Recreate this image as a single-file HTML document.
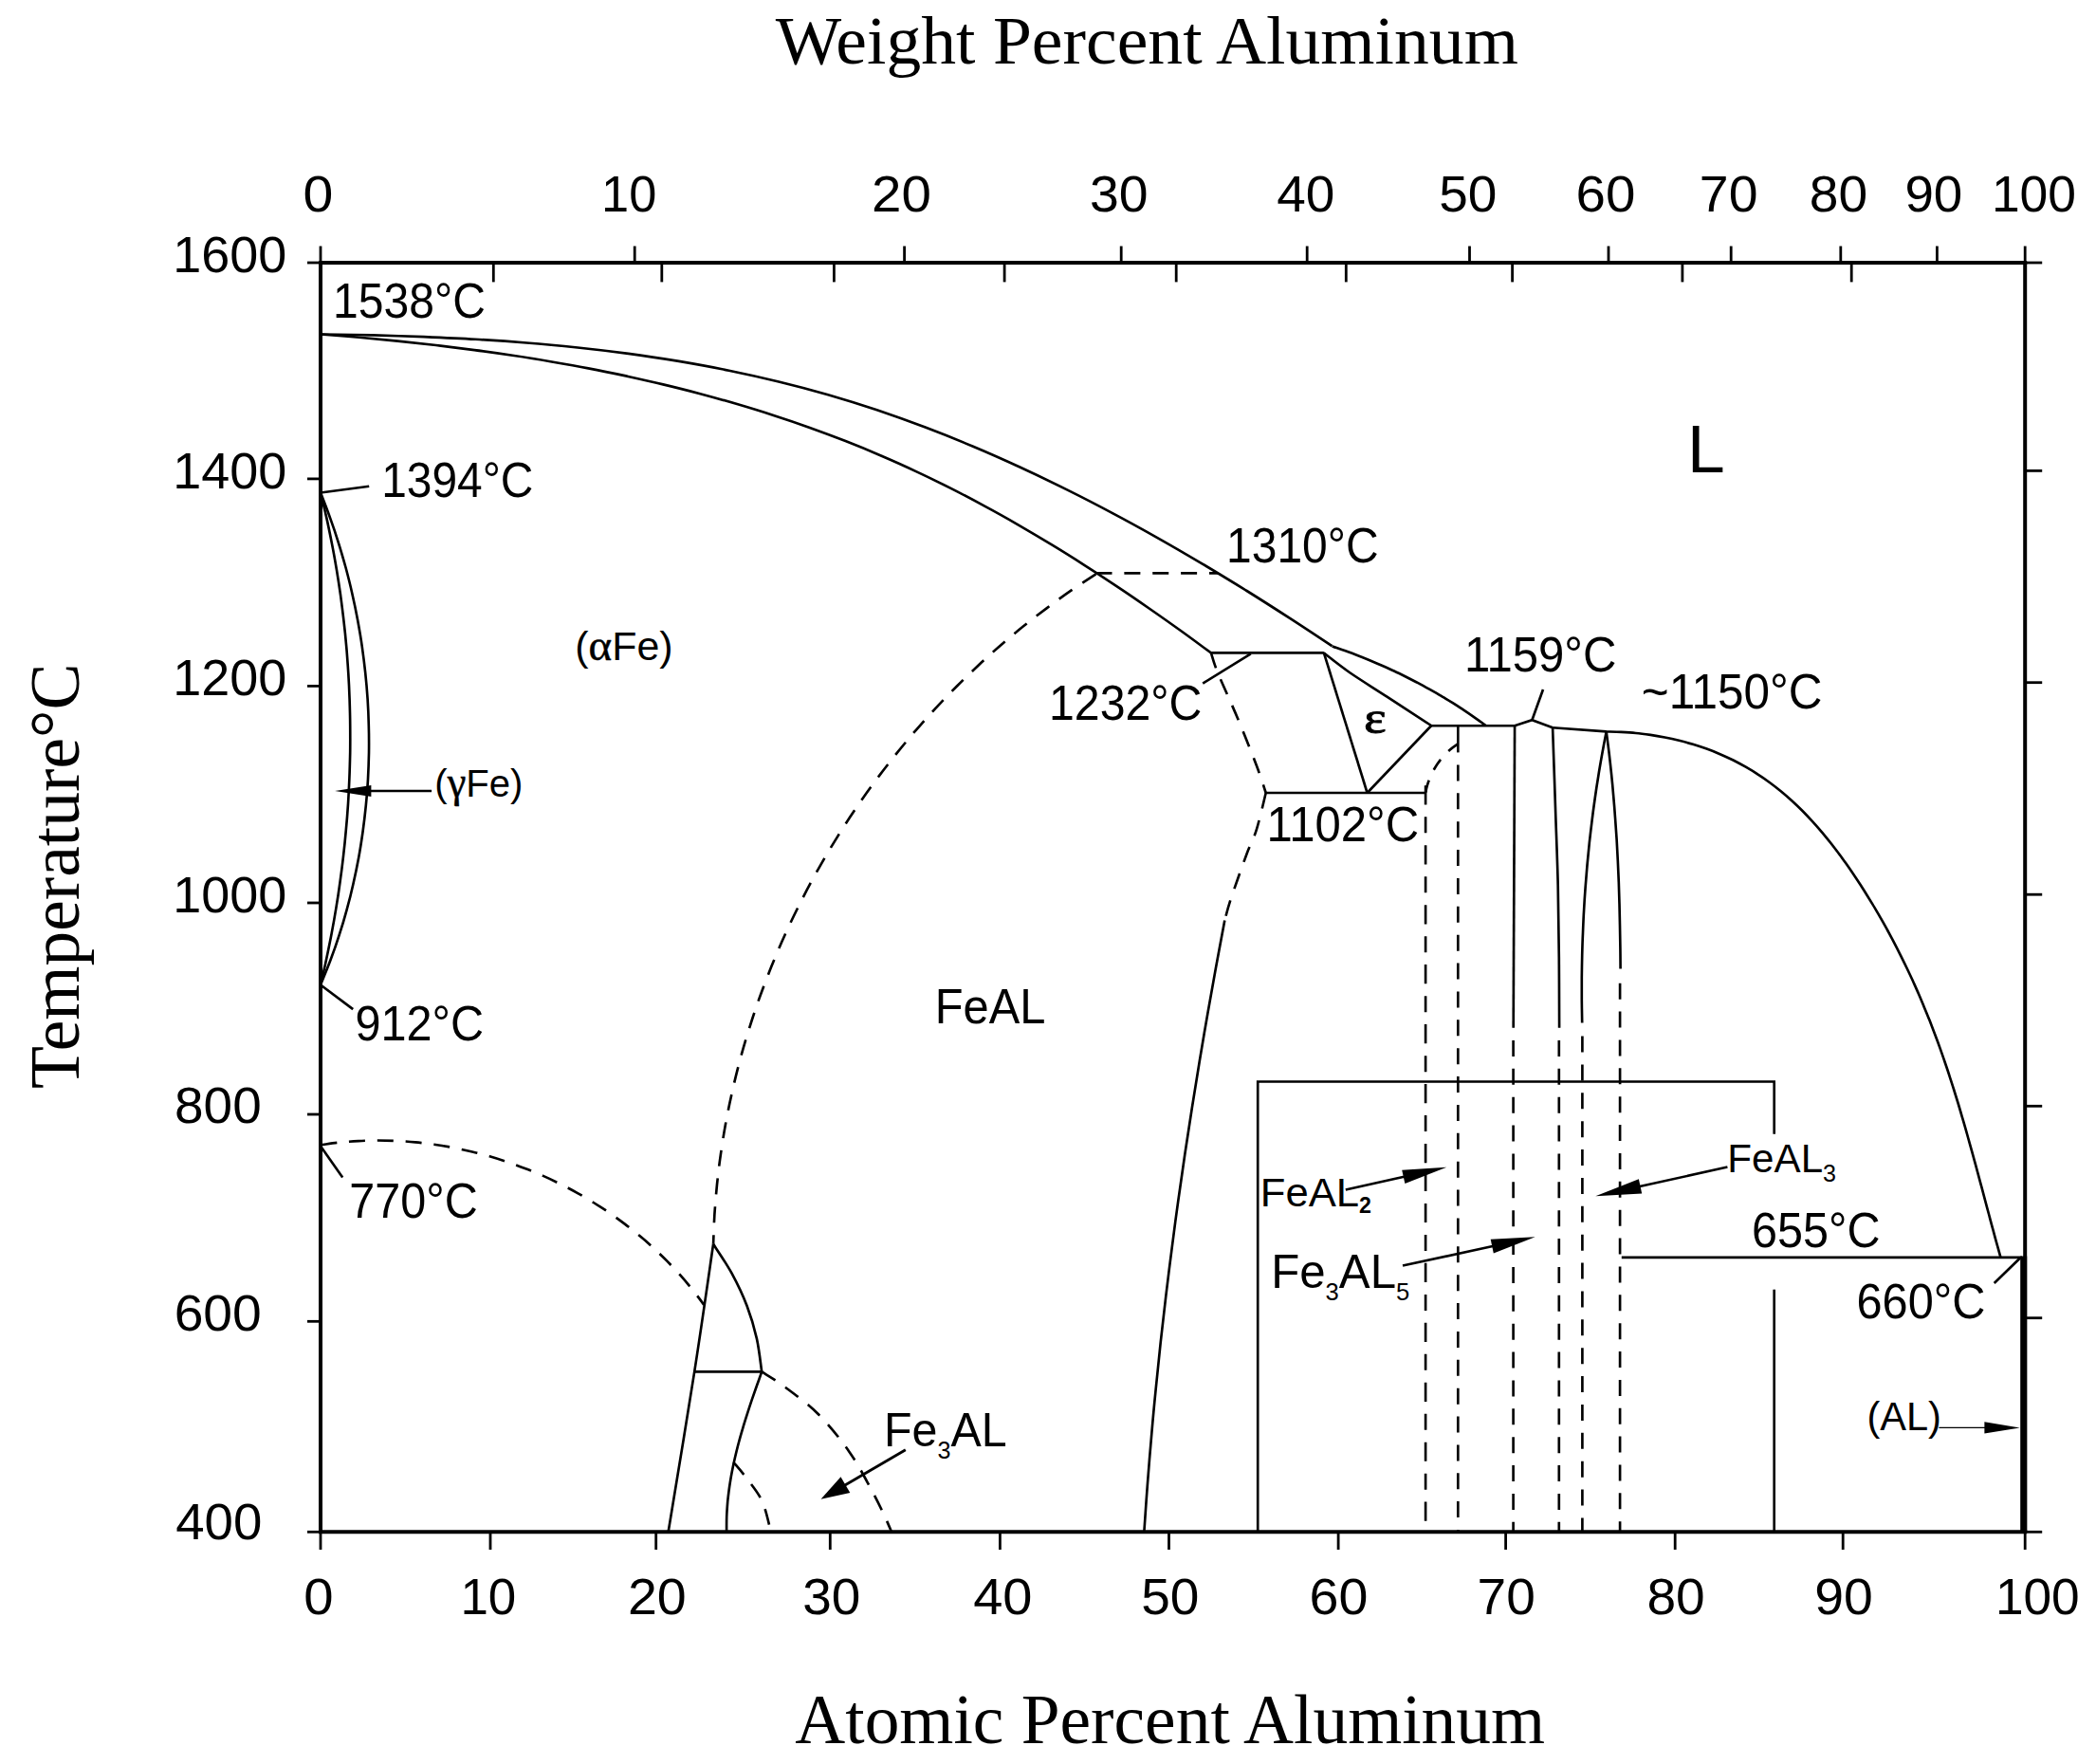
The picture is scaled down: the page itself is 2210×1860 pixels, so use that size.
<!DOCTYPE html>
<html><head><meta charset="utf-8"><title>Fe-Al phase diagram</title>
<style>
html,body{margin:0;padding:0;background:#fff}
svg{display:block}
.s{font-family:"Liberation Sans",Arial,Helvetica,sans-serif}
.r{font-family:"Liberation Serif","Times New Roman",Times,serif}
</style></head>
<body>
<svg width="2210" height="1860" viewBox="0 0 2210 1860">
<rect width="2210" height="1860" fill="#fff"/>
<g fill="none" stroke="#000" stroke-linecap="butt" stroke-linejoin="miter">
<path d="M336.0,277.0 L2137.2,277.0" stroke-width="4.0"/>
<path d="M336.0,1615.3 L2137.2,1615.3" stroke-width="4.0"/>
<path d="M338.0,277.0 L338.0,1615.3" stroke-width="4.0"/>
<path d="M2135.2,277.0 L2135.2,1615.3" stroke-width="4.0"/>
<path d="M338.0,259.5 L338.0,277.0" stroke-width="2.8"/>
<path d="M338.0,1615.3 L338.0,1634.0" stroke-width="2.8"/>
<path d="M2135.2,259.5 L2135.2,277.0" stroke-width="2.8"/>
<path d="M2135.2,1615.3 L2135.2,1634.0" stroke-width="2.8"/>
<path d="M324.0,277.0 L338.0,277.0" stroke-width="2.8"/>
<path d="M2135.2,277.0 L2153.2,277.0" stroke-width="2.8"/>
<path d="M324.0,1615.3 L338.0,1615.3" stroke-width="2.8"/>
<path d="M2135.2,1615.3 L2153.2,1615.3" stroke-width="2.8"/>
<path d="M2133.7,1324.6 L2133.7,1615.0" stroke-width="7.0"/>
<path d="M669.2,259.5 L669.2,277.0" stroke-width="2.8"/>
<path d="M953.6,259.5 L953.6,277.0" stroke-width="2.8"/>
<path d="M1182.2,259.5 L1182.2,277.0" stroke-width="2.8"/>
<path d="M1378.2,259.5 L1378.2,277.0" stroke-width="2.8"/>
<path d="M1549.5,259.5 L1549.5,277.0" stroke-width="2.8"/>
<path d="M1696.0,259.5 L1696.0,277.0" stroke-width="2.8"/>
<path d="M1825.2,259.5 L1825.2,277.0" stroke-width="2.8"/>
<path d="M1940.8,259.5 L1940.8,277.0" stroke-width="2.8"/>
<path d="M2042.4,259.5 L2042.4,277.0" stroke-width="2.8"/>
<path d="M520.3,277.0 L520.3,297.4" stroke-width="2.8"/>
<path d="M697.8,277.0 L697.8,297.4" stroke-width="2.8"/>
<path d="M879.4,277.0 L879.4,297.4" stroke-width="2.8"/>
<path d="M1059.1,277.0 L1059.1,297.4" stroke-width="2.8"/>
<path d="M1240.2,277.0 L1240.2,297.4" stroke-width="2.8"/>
<path d="M1419.3,277.0 L1419.3,297.4" stroke-width="2.8"/>
<path d="M1594.6,277.0 L1594.6,297.4" stroke-width="2.8"/>
<path d="M1773.9,277.0 L1773.9,297.4" stroke-width="2.8"/>
<path d="M1952.2,277.0 L1952.2,297.4" stroke-width="2.8"/>
<path d="M517.0,1615.3 L517.0,1634.0" stroke-width="2.8"/>
<path d="M691.7,1615.3 L691.7,1634.0" stroke-width="2.8"/>
<path d="M875.3,1615.3 L875.3,1634.0" stroke-width="2.8"/>
<path d="M1054.4,1615.3 L1054.4,1634.0" stroke-width="2.8"/>
<path d="M1232.5,1615.3 L1232.5,1634.0" stroke-width="2.8"/>
<path d="M1411.1,1615.3 L1411.1,1634.0" stroke-width="2.8"/>
<path d="M1587.6,1615.3 L1587.6,1634.0" stroke-width="2.8"/>
<path d="M1766.2,1615.3 L1766.2,1634.0" stroke-width="2.8"/>
<path d="M1943.2,1615.3 L1943.2,1634.0" stroke-width="2.8"/>
<path d="M324.0,504.9 L338.0,504.9" stroke-width="2.8"/>
<path d="M324.0,723.4 L338.0,723.4" stroke-width="2.8"/>
<path d="M324.0,952.0 L338.0,952.0" stroke-width="2.8"/>
<path d="M324.0,1175.0 L338.0,1175.0" stroke-width="2.8"/>
<path d="M324.0,1393.3 L338.0,1393.3" stroke-width="2.8"/>
<path d="M2135.2,496.4 L2153.2,496.4" stroke-width="2.8"/>
<path d="M2135.2,719.7 L2153.2,719.7" stroke-width="2.8"/>
<path d="M2135.2,943.2 L2153.2,943.2" stroke-width="2.8"/>
<path d="M2135.2,1166.3 L2153.2,1166.3" stroke-width="2.8"/>
<path d="M2135.2,1389.7 L2153.2,1389.7" stroke-width="2.8"/>
<path d="M338.0,352.5 C347.1,352.7 374.4,353.0 392.6,353.4 C410.7,353.9 428.9,354.4 447.0,355.1 C465.1,355.9 483.2,356.7 501.2,357.8 C519.3,358.8 537.3,360.0 555.3,361.5 C573.3,362.9 591.2,364.6 609.1,366.5 C627.0,368.4 644.8,370.5 662.6,372.9 C680.4,375.3 698.1,378.0 715.8,380.9 C733.5,383.9 751.1,387.1 768.6,390.7 C786.2,394.3 803.7,398.2 821.1,402.5 C838.5,406.7 855.8,411.3 873.1,416.3 C890.3,421.3 907.5,426.6 924.6,432.3 C941.7,438.1 958.7,444.2 975.6,450.6 C992.5,457.0 1009.3,463.7 1026.0,470.8 C1042.7,477.8 1059.3,485.2 1075.8,492.8 C1092.3,500.4 1108.7,508.3 1125.0,516.4 C1141.3,524.5 1157.5,532.8 1173.5,541.4 C1189.6,549.9 1205.5,558.7 1221.3,567.6 C1237.1,576.5 1252.8,585.7 1268.3,594.9 C1283.9,604.1 1299.3,613.6 1314.6,623.0 C1329.8,632.5 1345.0,642.2 1360.0,651.9 C1375.0,661.6 1397.1,676.3 1404.5,681.2" stroke-width="2.65"/>
<path d="M1404.6,681.6 C1406.8,682.4 1413.5,684.6 1417.9,686.1 C1422.3,687.7 1426.7,689.3 1431.1,691.0 C1435.5,692.7 1439.8,694.4 1444.2,696.2 C1448.5,698.0 1452.8,699.8 1457.1,701.7 C1461.4,703.6 1465.7,705.6 1469.9,707.5 C1474.2,709.5 1478.4,711.6 1482.6,713.7 C1486.8,715.8 1491.0,717.9 1495.2,720.1 C1499.3,722.3 1503.4,724.6 1507.5,726.9 C1511.6,729.2 1515.7,731.5 1519.7,733.9 C1523.7,736.3 1527.8,738.7 1531.7,741.2 C1535.7,743.7 1539.6,746.3 1543.6,748.9 C1547.5,751.5 1551.3,754.1 1555.2,756.8 C1559.0,759.5 1564.7,763.6 1566.6,765.0" stroke-width="2.65"/>
<path d="M338.0,352.5 C344.8,353.1 365.1,354.6 378.7,355.8 C392.3,357.0 405.8,358.3 419.3,359.6 C432.8,361.0 446.3,362.5 459.8,364.0 C473.3,365.6 486.8,367.3 500.2,369.1 C513.6,370.8 527.0,372.7 540.4,374.8 C553.8,376.8 567.1,378.9 580.4,381.2 C593.7,383.5 607.0,385.8 620.3,388.4 C633.5,390.9 646.7,393.6 659.9,396.4 C673.0,399.3 686.2,402.2 699.2,405.4 C712.3,408.5 725.3,411.8 738.3,415.2 C751.3,418.7 764.2,422.3 777.1,426.1 C790.0,429.9 802.8,433.8 815.6,438.0 C828.4,442.1 841.1,446.4 853.8,451.0 C866.4,455.5 879.0,460.2 891.5,465.1 C904.1,470.0 916.5,475.1 928.9,480.5 C941.3,485.8 953.7,491.3 965.9,497.1 C978.2,502.8 990.4,508.8 1002.5,514.9 C1014.6,521.0 1026.7,527.4 1038.6,533.9 C1050.6,540.3 1062.5,547.0 1074.3,553.8 C1086.1,560.6 1097.8,567.6 1109.4,574.7 C1121.0,581.7 1132.6,589.0 1144.0,596.3 C1155.5,603.6 1166.9,611.1 1178.1,618.6 C1189.4,626.1 1200.6,633.8 1211.6,641.5 C1222.7,649.2 1233.7,656.9 1244.6,664.8 C1255.5,672.6 1271.5,684.5 1276.9,688.4" stroke-width="2.65"/>
<path d="M1276.9,688.4 L1395.9,688.4" stroke-width="2.65"/>
<path d="M1318.8,689.4 L1268.2,720.6" stroke-width="2.65"/>
<path d="M1395.7,688.4 C1400.2,691.8 1411.8,701.3 1422.9,709.0 C1434.0,716.7 1448.1,725.3 1462.4,734.6 C1476.8,743.9 1501.2,759.9 1509.0,765.0" stroke-width="2.65"/>
<path d="M1395.9,688.4 L1441.6,836.0" stroke-width="2.65"/>
<path d="M1509.3,765.0 L1441.6,836.0" stroke-width="2.65"/>
<path d="M1509.0,765.2 L1597.1,765.2 L1615.4,759.2 L1637.1,767.3" stroke-width="2.65"/>
<path d="M1615.4,759.2 L1627.0,727.0" stroke-width="2.65"/>
<path d="M1637.1,767.3 L1693.7,771.4 C1696.3,771.5 1704.1,771.6 1709.3,771.9 C1714.5,772.2 1719.6,772.5 1724.8,773.0 C1729.9,773.5 1735.1,774.2 1740.2,774.9 C1745.2,775.6 1750.3,776.5 1755.3,777.5 C1760.4,778.5 1765.4,779.6 1770.3,780.8 C1775.3,782.0 1780.2,783.3 1785.0,784.8 C1789.9,786.3 1794.7,787.9 1799.5,789.6 C1804.2,791.3 1809.0,793.2 1813.6,795.2 C1818.3,797.2 1822.8,799.3 1827.4,801.5 C1831.9,803.8 1836.3,806.2 1840.7,808.7 C1845.1,811.2 1849.4,813.8 1853.6,816.6 C1857.9,819.3 1862.0,822.2 1866.1,825.2 C1870.2,828.2 1874.1,831.3 1878.0,834.5 C1881.9,837.7 1885.8,841.1 1889.5,844.5 C1893.2,847.9 1896.9,851.4 1900.5,855.0 C1904.0,858.6 1907.5,862.3 1911.0,866.1 C1914.4,869.8 1917.8,873.7 1921.1,877.6 C1924.4,881.5 1927.6,885.5 1930.8,889.5 C1933.9,893.5 1937.1,897.6 1940.1,901.7 C1943.2,905.9 1946.1,910.1 1949.1,914.3 C1952.0,918.5 1954.9,922.8 1957.7,927.0 C1960.6,931.3 1963.4,935.6 1966.1,940.0 C1968.8,944.3 1971.5,948.7 1974.2,953.1 C1976.8,957.4 1979.4,961.9 1982.0,966.3 C1984.5,970.7 1987.0,975.2 1989.5,979.6 C1991.9,984.1 1994.4,988.6 1996.7,993.1 C1999.1,997.7 2001.4,1002.2 2003.7,1006.8 C2006.0,1011.3 2008.2,1015.9 2010.4,1020.5 C2012.6,1025.1 2014.8,1029.7 2016.9,1034.3 C2019.0,1039.0 2021.1,1043.6 2023.1,1048.3 C2025.1,1053.0 2027.1,1057.7 2029.0,1062.4 C2031.0,1067.1 2032.9,1071.8 2034.8,1076.5 C2036.6,1081.2 2038.4,1086.0 2040.2,1090.8 C2042.0,1095.5 2043.8,1100.3 2045.5,1105.1 C2047.2,1109.9 2048.9,1114.7 2050.5,1119.5 C2052.1,1124.3 2053.8,1129.1 2055.3,1133.9 C2056.9,1138.8 2058.5,1143.6 2060.0,1148.5 C2061.5,1153.3 2063.0,1158.2 2064.5,1163.0 C2066.0,1167.9 2067.4,1172.8 2068.8,1177.7 C2070.3,1182.6 2071.7,1187.5 2073.1,1192.4 C2074.5,1197.3 2075.8,1202.2 2077.2,1207.1 C2078.6,1212.0 2079.9,1216.9 2081.3,1221.8 C2082.6,1226.7 2084.0,1231.7 2085.3,1236.6 C2086.6,1241.5 2087.9,1246.4 2089.3,1251.4 C2090.6,1256.3 2091.9,1261.2 2093.2,1266.2 C2094.5,1271.1 2095.9,1276.1 2097.2,1281.0 C2098.5,1285.9 2099.8,1290.9 2101.2,1295.8 C2102.5,1300.7 2103.8,1305.7 2105.2,1310.6 C2106.6,1315.5 2108.6,1322.9 2109.3,1325.4" stroke-width="2.65"/>
<path d="M1334.7,836.0 L1503.0,836.0" stroke-width="2.65"/>
<path d="M1155.5,604.3 L1285.0,604.3" stroke-width="2.65" stroke-dasharray="17 12.87"/>
<path d="M1155.5,605.3 C1151.1,608.2 1137.9,616.8 1129.3,622.7 C1120.7,628.7 1112.2,634.8 1103.9,641.1 C1095.5,647.4 1087.2,653.8 1079.1,660.3 C1070.9,666.9 1062.9,673.6 1055.0,680.5 C1047.1,687.3 1039.3,694.3 1031.7,701.5 C1024.1,708.6 1016.5,715.9 1009.2,723.3 C1001.8,730.6 994.5,738.2 987.4,745.8 C980.3,753.5 973.3,761.3 966.5,769.1 C959.6,777.0 952.9,785.1 946.4,793.2 C939.8,801.3 933.4,809.5 927.1,817.9 C920.8,826.2 914.7,834.7 908.7,843.3 C902.8,851.8 896.9,860.5 891.3,869.2 C885.6,878.0 880.1,886.9 874.7,895.8 C869.4,904.8 864.2,913.8 859.1,923.0 C854.1,932.1 849.2,941.3 844.5,950.6 C839.8,959.9 835.2,969.3 830.8,978.8 C826.4,988.2 822.2,997.8 818.2,1007.4 C814.1,1017.0 810.3,1026.7 806.6,1036.4 C802.9,1046.1 799.3,1056.0 796.0,1065.8 C792.7,1075.7 789.5,1085.7 786.5,1095.6 C783.5,1105.6 780.7,1115.7 778.1,1125.8 C775.5,1135.9 773.1,1146.0 770.9,1156.2 C768.6,1166.4 766.6,1176.6 764.7,1186.9 C762.9,1197.2 761.2,1207.5 759.8,1217.9 C758.3,1228.2 757.1,1238.6 756.0,1249.0 C755.0,1259.4 754.1,1269.9 753.4,1280.3 C752.8,1290.8 752.3,1306.6 752.1,1311.8" stroke-width="2.65" stroke-dasharray="17 12.87"/>
<path d="M1276.9,688.4 C1278.1,691.9 1279.4,698.1 1284.0,709.4 C1288.6,720.7 1297.7,740.0 1304.5,756.3 C1311.3,772.6 1319.9,794.0 1324.9,807.3 C1329.9,820.6 1333.1,831.2 1334.7,836.0" stroke-width="2.65" stroke-dasharray="17 12.87"/>
<path d="M1334.7,836.0 C1333.1,842.5 1328.2,864.0 1324.9,874.7 C1321.6,885.4 1319.2,887.9 1314.7,900.0 C1310.2,912.1 1301.9,935.4 1298.0,947.2 C1294.1,959.0 1292.4,966.7 1291.3,970.6" stroke-width="2.65" stroke-dasharray="17 12.87"/>
<path d="M1291.3,970.6 C1289.8,978.8 1285.1,1003.4 1282.1,1019.8 C1279.1,1036.2 1276.2,1052.6 1273.3,1069.0 C1270.4,1085.4 1267.6,1101.9 1264.9,1118.3 C1262.1,1134.8 1259.5,1151.3 1256.9,1167.7 C1254.3,1184.2 1251.8,1200.7 1249.3,1217.2 C1246.9,1233.7 1244.5,1250.2 1242.2,1266.7 C1239.9,1283.2 1237.7,1299.8 1235.6,1316.3 C1233.4,1332.8 1231.4,1349.4 1229.4,1365.9 C1227.4,1382.5 1225.5,1399.1 1223.7,1415.6 C1221.9,1432.2 1220.2,1448.8 1218.6,1465.4 C1216.9,1482.0 1215.4,1498.6 1214.0,1515.2 C1212.5,1531.8 1211.2,1548.5 1209.9,1565.1 C1208.6,1581.7 1207.0,1606.7 1206.4,1615.0" stroke-width="2.65"/>
<path d="M1503.1,828.3 L1503.1,1615.0" stroke-width="2.65" stroke-dasharray="20.2 12.87 17 12.87"/>
<path d="M1537.3,765.2 L1537.3,793.4" stroke-width="2.65"/>
<path d="M1537.3,806.5 L1537.3,1615.0" stroke-width="2.65" stroke-dasharray="17 12.87"/>
<path d="M1537.4,784.2 C1536.0,785.2 1532.0,787.7 1528.9,790.5 C1525.9,793.3 1522.2,796.9 1519.1,800.8 C1516.0,804.7 1512.9,809.4 1510.5,814.0 C1508.1,818.6 1506.0,824.5 1504.8,828.3 C1503.6,832.1 1503.4,835.5 1503.1,836.9" stroke-width="2.65" stroke-dasharray="13 12"/>
<path d="M1597.1,765.2 L1595.7,1083.7" stroke-width="2.65"/>
<path d="M1595.6,1097.0 L1595.6,1615.0" stroke-width="2.65" stroke-dasharray="17 12.87"/>
<path d="M1637.1,767.3 C1637.6,781.4 1639.1,824.3 1640.0,852.0 C1640.9,879.7 1642.1,907.4 1642.7,933.7 C1643.3,960.0 1643.6,985.0 1643.8,1010.0 C1644.0,1035.0 1644.0,1071.4 1644.1,1083.7" stroke-width="2.65"/>
<path d="M1643.8,1097.0 L1643.8,1615.0" stroke-width="2.65" stroke-dasharray="17 12.87"/>
<path d="M1693.7,771.4 C1693.0,775.3 1690.7,787.0 1689.3,794.8 C1687.9,802.6 1686.5,810.4 1685.3,818.2 C1684.0,826.0 1682.8,833.8 1681.7,841.7 C1680.6,849.5 1679.5,857.4 1678.6,865.2 C1677.6,873.1 1676.7,880.9 1675.8,888.8 C1675.0,896.7 1674.2,904.6 1673.5,912.5 C1672.8,920.3 1672.2,928.2 1671.6,936.1 C1671.0,944.0 1670.5,951.9 1670.1,959.8 C1669.6,967.7 1669.3,975.7 1669.0,983.6 C1668.6,991.5 1668.4,999.4 1668.2,1007.3 C1668.0,1015.2 1667.9,1023.2 1667.8,1031.1 C1667.8,1039.0 1667.8,1046.9 1667.8,1054.8 C1667.9,1062.8 1668.1,1074.6 1668.2,1078.6" stroke-width="2.65"/>
<path d="M1668.4,1092.6 L1668.4,1615.0" stroke-width="2.65" stroke-dasharray="17 12.87"/>
<path d="M1693.7,771.4 C1694.2,775.2 1695.7,786.5 1696.6,794.0 C1697.5,801.5 1698.3,809.1 1699.1,816.6 C1699.9,824.2 1700.6,831.8 1701.2,839.3 C1701.9,846.9 1702.5,854.5 1703.0,862.0 C1703.6,869.6 1704.1,877.2 1704.6,884.8 C1705.0,892.3 1705.4,899.9 1705.8,907.5 C1706.2,915.1 1706.5,922.7 1706.8,930.3 C1707.0,937.9 1707.3,945.5 1707.5,953.1 C1707.7,960.7 1707.9,968.3 1708.0,975.9 C1708.2,983.4 1708.3,991.0 1708.4,998.6 C1708.5,1006.2 1708.6,1017.6 1708.6,1021.4" stroke-width="2.65"/>
<path d="M1708.1,1036.7 L1708.1,1615.0" stroke-width="2.65" stroke-dasharray="17 12.87"/>
<path d="M1326.2,1615.0 L1326.2,1140.5 L1870.7,1140.5 L1870.7,1195.7" stroke-width="2.65"/>
<path d="M1870.7,1359.7 L1870.7,1615.0" stroke-width="2.65"/>
<path d="M1709.8,1325.9 L2132.0,1325.9" stroke-width="2.65"/>
<path d="M2130.0,1326.5 L2102.7,1353.0" stroke-width="2.65"/>
<path d="M338.0,519.5 C339.1,524.0 342.4,537.4 344.4,546.4 C346.4,555.4 348.2,564.4 350.0,573.4 C351.8,582.4 353.4,591.5 354.9,600.5 C356.4,609.6 357.8,618.7 359.1,627.8 C360.3,636.9 361.5,646.0 362.5,655.2 C363.6,664.3 364.5,673.4 365.3,682.6 C366.1,691.7 366.7,700.9 367.3,710.1 C367.9,719.3 368.3,728.4 368.6,737.6 C368.9,746.8 369.2,756.0 369.2,765.2 C369.3,774.4 369.3,783.6 369.2,792.8 C369.0,801.9 368.8,811.1 368.4,820.3 C368.0,829.5 367.6,838.7 367.0,847.9 C366.4,857.0 365.7,866.2 364.8,875.4 C364.0,884.5 363.1,893.7 362.0,902.8 C361.0,911.9 359.8,921.1 358.5,930.2 C357.3,939.3 355.9,948.4 354.4,957.4 C352.9,966.5 351.3,975.6 349.6,984.6 C347.9,993.6 346.0,1002.6 344.1,1011.6 C342.2,1020.6 339.0,1034.0 338.0,1038.5" stroke-width="2.65"/>
<path d="M338.0,519.5 C339.7,523.8 344.8,536.8 347.9,545.6 C351.1,554.4 354.1,563.2 356.8,572.1 C359.6,581.0 362.2,590.0 364.7,599.0 C367.1,608.0 369.4,617.1 371.4,626.2 C373.5,635.3 375.4,644.5 377.1,653.7 C378.8,662.9 380.4,672.1 381.7,681.4 C383.0,690.6 384.2,699.9 385.2,709.3 C386.2,718.6 387.0,727.9 387.6,737.2 C388.2,746.6 388.6,755.9 388.8,765.3 C389.1,774.6 389.1,784.0 389.0,793.4 C388.8,802.7 388.5,812.1 388.0,821.4 C387.5,830.7 386.7,840.1 385.8,849.4 C384.9,858.6 383.8,867.9 382.5,877.2 C381.2,886.4 379.8,895.6 378.1,904.8 C376.4,914.0 374.5,923.1 372.4,932.2 C370.4,941.3 368.1,950.4 365.6,959.3 C363.2,968.3 360.5,977.3 357.6,986.1 C354.8,995.0 351.7,1003.8 348.4,1012.5 C345.1,1021.3 339.7,1034.2 338.0,1038.5" stroke-width="2.65"/>
<path d="M338.0,519.5 L389.2,512.7" stroke-width="2.65"/>
<path d="M338.0,1038.5 L372.2,1064.1" stroke-width="2.65"/>
<path d="M338.0,1208.4 L361.2,1241.6" stroke-width="2.65"/>
<path d="M338.3,1207.2 C341.6,1206.8 351.5,1205.3 358.1,1204.6 C364.7,1203.9 371.3,1203.4 378.0,1203.1 C384.6,1202.7 391.3,1202.5 397.9,1202.5 C404.6,1202.5 411.2,1202.6 417.9,1203.0 C424.5,1203.3 431.2,1203.7 437.8,1204.4 C444.4,1205.0 451.0,1205.8 457.6,1206.7 C464.2,1207.7 470.8,1208.8 477.4,1210.0 C483.9,1211.3 490.4,1212.7 496.9,1214.2 C503.4,1215.8 509.9,1217.5 516.3,1219.3 C522.7,1221.2 529.1,1223.2 535.4,1225.3 C541.7,1227.5 548.0,1229.8 554.2,1232.2 C560.5,1234.6 566.6,1237.2 572.7,1239.9 C578.9,1242.6 584.9,1245.5 590.9,1248.5 C596.8,1251.4 602.8,1254.6 608.6,1257.8 C614.4,1261.1 620.2,1264.5 625.8,1268.0 C631.5,1271.5 637.1,1275.1 642.6,1278.9 C648.1,1282.7 653.5,1286.6 658.8,1290.6 C664.1,1294.6 669.3,1298.8 674.4,1303.1 C679.5,1307.3 684.6,1311.7 689.4,1316.2 C694.3,1320.8 699.1,1325.4 703.8,1330.1 C708.4,1334.9 713.0,1339.7 717.4,1344.7 C721.8,1349.7 726.1,1354.8 730.2,1360.0 C734.4,1365.2 740.3,1373.2 742.3,1375.9" stroke-width="2.65" stroke-dasharray="17 12.87"/>
<path d="M752.1,1311.8 C748.8,1334.2 740.1,1395.9 732.2,1446.4 C724.3,1496.9 709.3,1586.9 704.7,1615.0" stroke-width="2.65"/>
<path d="M752.1,1311.8 C755.4,1317.0 765.7,1331.8 771.6,1342.7 C777.5,1353.6 783.2,1365.5 787.6,1377.0 C792.0,1388.5 795.3,1399.8 797.9,1411.4 C800.5,1423.0 802.3,1440.6 803.2,1446.4" stroke-width="2.65"/>
<path d="M732.2,1446.4 L803.2,1446.4" stroke-width="2.65"/>
<path d="M803.2,1446.4 C802.3,1448.9 799.7,1456.3 797.9,1461.2 C796.2,1466.2 794.4,1471.2 792.7,1476.1 C791.0,1481.1 789.4,1486.1 787.8,1491.2 C786.2,1496.2 784.6,1501.2 783.1,1506.3 C781.6,1511.3 780.1,1516.4 778.8,1521.5 C777.4,1526.6 776.2,1531.7 775.0,1536.8 C773.8,1541.9 772.7,1547.0 771.7,1552.2 C770.7,1557.4 769.9,1562.5 769.1,1567.7 C768.4,1572.9 767.7,1578.1 767.2,1583.4 C766.8,1588.6 766.4,1593.8 766.2,1599.1 C766.0,1604.4 766.1,1612.4 766.1,1615.0" stroke-width="2.65"/>
<path d="M803.2,1446.4 C807.1,1449.0 816.6,1454.2 826.6,1461.7 C836.6,1469.2 851.8,1480.0 863.2,1491.5 C874.6,1503.0 886.1,1517.4 895.2,1530.4 C904.4,1543.4 912.0,1558.3 918.1,1569.4 C924.2,1580.5 928.3,1589.2 931.9,1596.8 C935.5,1604.4 938.6,1612.0 939.9,1615.0" stroke-width="2.65" stroke-dasharray="17 12.87"/>
<path d="M773.4,1541.9 C775.8,1544.8 782.5,1552.2 787.6,1559.1 C792.7,1566.0 799.5,1573.8 803.7,1583.1 C807.9,1592.4 811.3,1609.7 812.8,1615.0" stroke-width="2.65" stroke-dasharray="17 12.87"/>
<path d="M455.1,834.0 L388.4,834.0" stroke-width="2.6"/>
<polygon points="353.2,834.0 391.4,827.9 391.4,840.1" fill="#000" stroke="none"/>
<path d="M1418.8,1254.4 L1482.7,1240.2" stroke-width="2.6"/>
<polygon points="1525.3,1230.8 1481.4,1248.0 1478.2,1233.8" fill="#000" stroke="none"/>
<path d="M1479.0,1334.6 L1576.2,1313.5" stroke-width="2.6"/>
<polygon points="1618.7,1304.3 1574.8,1321.5 1571.7,1306.8" fill="#000" stroke="none"/>
<path d="M1821.4,1230.6 L1726.6,1251.5" stroke-width="2.6"/>
<polygon points="1682.3,1261.3 1727.9,1243.3 1731.2,1258.5" fill="#000" stroke="none"/>
<path d="M954.8,1528.8 L888.8,1567.2" stroke-width="2.9"/>
<polygon points="865.5,1580.8 886.5,1557.3 896.3,1574.1" fill="#000" stroke="none"/>
<path d="M2044.4,1505.4 L2095.4,1505.4" stroke-width="1.3"/>
<polygon points="2129.7,1505.4 2092.4,1511.6 2092.4,1499.2" fill="#000" stroke="none"/>
</g>
<g fill="#000">
<text transform="translate(817.80,66.9) scale(1.0139,1)"><tspan class="r" font-size="72.6">Weight Percent Aluminum</tspan></text>
<text transform="translate(838.27,1837.7) scale(0.9985,1)"><tspan class="r" font-size="73.5">Atomic Percent Aluminum</tspan></text>
<text transform="translate(83.4,1148.0) rotate(-90) scale(0.9993,1)"><tspan class="r" font-size="73.5">Temperature°C</tspan></text>
<text transform="translate(319.61,222.5) scale(1.0588,1)"><tspan class="s" font-size="54">0</tspan></text>
<text transform="translate(634.08,222.5) scale(0.9691,1)"><tspan class="s" font-size="54">10</tspan></text>
<text transform="translate(919.07,222.5) scale(1.0468,1)"><tspan class="s" font-size="54">20</tspan></text>
<text transform="translate(1148.92,222.5) scale(1.0252,1)"><tspan class="s" font-size="54">30</tspan></text>
<text transform="translate(1346.16,222.5) scale(1.0176,1)"><tspan class="s" font-size="54">40</tspan></text>
<text transform="translate(1517.20,222.5) scale(1.0187,1)"><tspan class="s" font-size="54">50</tspan></text>
<text transform="translate(1661.47,222.5) scale(1.0468,1)"><tspan class="s" font-size="54">60</tspan></text>
<text transform="translate(1791.83,222.5) scale(1.0269,1)"><tspan class="s" font-size="54">70</tspan></text>
<text transform="translate(1907.76,222.5) scale(1.0212,1)"><tspan class="s" font-size="54">80</tspan></text>
<text transform="translate(2008.40,222.5) scale(1.0136,1)"><tspan class="s" font-size="54">90</tspan></text>
<text transform="translate(2099.89,222.5) scale(0.9896,1)"><tspan class="s" font-size="54">100</tspan></text>
<text transform="translate(320.15,1702.3) scale(1.0337,1)"><tspan class="s" font-size="54.5">0</tspan></text>
<text transform="translate(485.43,1702.3) scale(0.9712,1)"><tspan class="s" font-size="54.5">10</tspan></text>
<text transform="translate(661.92,1702.3) scale(1.0193,1)"><tspan class="s" font-size="54.5">20</tspan></text>
<text transform="translate(846.34,1702.3) scale(1.0070,1)"><tspan class="s" font-size="54.5">30</tspan></text>
<text transform="translate(1026.14,1702.3) scale(1.0275,1)"><tspan class="s" font-size="54.5">40</tspan></text>
<text transform="translate(1203.20,1702.3) scale(1.0094,1)"><tspan class="s" font-size="54.5">50</tspan></text>
<text transform="translate(1380.62,1702.3) scale(1.0193,1)"><tspan class="s" font-size="54.5">60</tspan></text>
<text transform="translate(1557.55,1702.3) scale(1.0103,1)"><tspan class="s" font-size="54.5">70</tspan></text>
<text transform="translate(1736.46,1702.3) scale(1.0118,1)"><tspan class="s" font-size="54.5">80</tspan></text>
<text transform="translate(1913.17,1702.3) scale(1.0168,1)"><tspan class="s" font-size="54.5">90</tspan></text>
<text transform="translate(2103.91,1702.3) scale(0.9770,1)"><tspan class="s" font-size="54.5">100</tspan></text>
<text transform="translate(182.35,287.0) scale(1.0081,1)"><tspan class="s" font-size="53.5">1600</tspan></text>
<text transform="translate(182.35,515.2) scale(1.0081,1)"><tspan class="s" font-size="53.5">1400</tspan></text>
<text transform="translate(182.35,732.7) scale(1.0081,1)"><tspan class="s" font-size="53.5">1200</tspan></text>
<text transform="translate(182.35,962.0) scale(1.0081,1)"><tspan class="s" font-size="53.5">1000</tspan></text>
<text transform="translate(184.07,1183.9) scale(1.0267,1)"><tspan class="s" font-size="53.5">800</tspan></text>
<text transform="translate(183.64,1402.7) scale(1.0316,1)"><tspan class="s" font-size="53.5">600</tspan></text>
<text transform="translate(185.17,1623.2) scale(1.0209,1)"><tspan class="s" font-size="53.5">400</tspan></text>
<text transform="translate(351.10,334.7) scale(0.9419,1)"><tspan class="s" font-size="51">1538°C</tspan></text>
<text transform="translate(402.21,523.6) scale(0.9389,1)"><tspan class="s" font-size="51">1394°C</tspan></text>
<text transform="translate(1293.10,593.2) scale(0.9401,1)"><tspan class="s" font-size="51">1310°C</tspan></text>
<text transform="translate(1105.98,759.1) scale(0.9461,1)"><tspan class="s" font-size="51">1232°C</tspan></text>
<text transform="translate(1543.92,707.9) scale(0.9618,1)"><tspan class="s" font-size="51">1159°C</tspan></text>
<text transform="translate(1730.78,746.7) scale(0.9692,1)"><tspan class="s" font-size="51">~1150°C</tspan></text>
<text transform="translate(1335.52,886.6) scale(0.9624,1)"><tspan class="s" font-size="51">1102°C</tspan></text>
<text transform="translate(374.49,1097.0) scale(0.9525,1)"><tspan class="s" font-size="51">912°C</tspan></text>
<text transform="translate(368.37,1284.3) scale(0.9519,1)"><tspan class="s" font-size="51">770°C</tspan></text>
<text transform="translate(1847.07,1315.4) scale(0.9519,1)"><tspan class="s" font-size="51">655°C</tspan></text>
<text transform="translate(1957.46,1390.4) scale(0.9555,1)"><tspan class="s" font-size="51">660°C</tspan></text>
<text transform="translate(1778.91,498.0) scale(1.0051,1)"><tspan class="s" font-size="71">L</tspan></text>
<text transform="translate(985.77,1079.4) scale(0.9520,1)"><tspan class="s" font-size="51.3">FeAL</tspan></text>
<text transform="translate(606.32,696.1) scale(1.0214,1)"><tspan class="s" font-size="42">(</tspan><tspan class="r" font-size="46" stroke="#000" stroke-width="0.5">α</tspan><tspan class="s" font-size="42">Fe)</tspan></text>
<text transform="translate(458.29,840.4) scale(0.9659,1)"><tspan class="s" font-size="41.5">(</tspan><tspan class="r" font-size="46" stroke="#000" stroke-width="0.5">γ</tspan><tspan class="s" font-size="41.5">Fe)</tspan></text>
<text transform="translate(1438.09,773.0) scale(1.1498,1)"><tspan class="r" font-size="49" stroke="#000" stroke-width="0.9">ε</tspan></text>
<text transform="translate(932.01,1525.4) scale(0.9681,1)"><tspan class="s" font-size="50">Fe</tspan><tspan class="s" font-size="26" dy="13.0">3</tspan><tspan class="s" font-size="50" dy="-13.0">AL</tspan></text>
<text transform="translate(1328.80,1272.1) scale(1.0078,1)"><tspan class="s" font-size="43.3">FeAL</tspan><tspan class="s" font-size="23" font-weight="bold" dy="7.0">2</tspan></text>
<text transform="translate(1340.24,1358.2) scale(0.9837,1)"><tspan class="s" font-size="50">Fe</tspan><tspan class="s" font-size="26" dy="13.0">3</tspan><tspan class="s" font-size="50" dy="-13.0">AL</tspan><tspan class="s" font-size="26" dy="13.0">5</tspan></text>
<text transform="translate(1821.32,1235.6) scale(1.0042,1)"><tspan class="s" font-size="42">FeAL</tspan><tspan class="s" font-size="25" dy="10.0">3</tspan></text>
<text transform="translate(1968.40,1508.0) scale(0.9902,1)"><tspan class="s" font-size="42">(AL)</tspan></text>
</g>
</svg>
</body></html>
